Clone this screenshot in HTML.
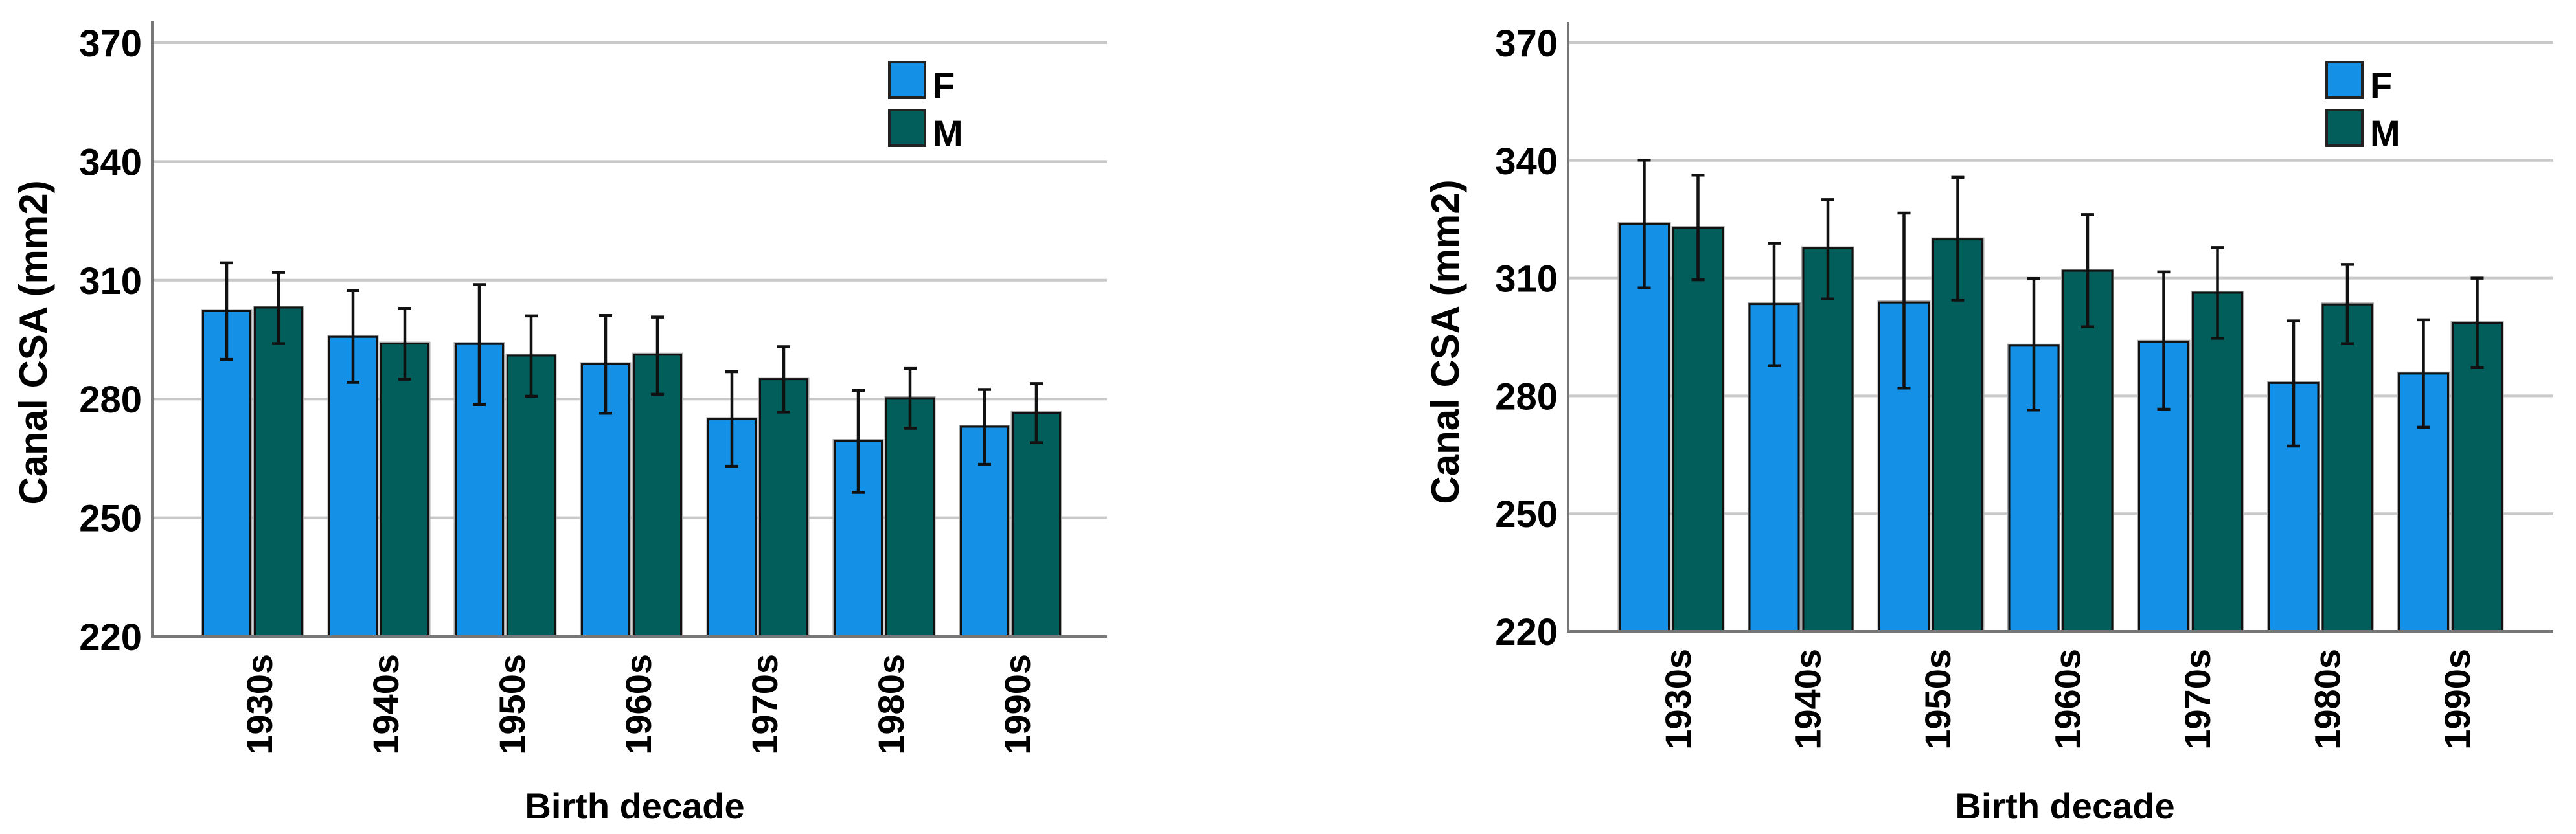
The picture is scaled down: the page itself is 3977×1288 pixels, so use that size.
<!DOCTYPE html>
<html><head><meta charset="utf-8"><style>
html,body{margin:0;padding:0;background:#fff;}
svg{display:block;}
text{font-family:"Liberation Sans",Arial,sans-serif;font-weight:bold;fill:#000;}
</style></head><body>
<svg id="chart" width="3977" height="1288" viewBox="0 0 3977 1288" xmlns="http://www.w3.org/2000/svg"></svg>
<script>
const categories = ["1930s","1940s","1950s","1960s","1970s","1980s","1990s"];
const yTicks = [220,250,280,310,340,370];
const leftF = [302.2,295.7,293.9,288.8,274.9,269.4,273.0];
const leftFHi = [314.4,307.4,308.9,301.1,286.9,282.2,282.4];
const leftFLo = [290.0,284.2,278.6,276.4,263.0,256.4,263.5];
const leftM = [303.1,294.0,291.0,291.2,285.0,280.2,276.5];
const leftMHi = [312.0,302.9,301.0,300.7,293.2,287.7,283.9];
const leftMLo = [294.0,285.0,280.7,281.2,276.7,272.6,269.0];
const rightF = [323.8,303.4,303.8,292.8,293.8,283.3,285.7];
const rightFHi = [340.1,318.9,326.6,309.9,311.6,299.1,299.4];
const rightFLo = [307.5,287.7,282.0,276.4,276.6,267.2,272.0];
const rightM = [322.8,317.6,319.9,311.9,306.3,303.3,298.6];
const rightMHi = [336.3,330.0,335.7,326.2,317.8,313.5,310.0];
const rightMLo = [309.6,304.7,304.4,297.6,294.7,293.3,287.2];

const NS = "http://www.w3.org/2000/svg";
const svg = document.getElementById("chart");
function mk(tag, attrs, parent){
  const e = document.createElementNS(NS, tag);
  for (const k in attrs) e.setAttribute(k, attrs[k]);
  (parent||svg).appendChild(e);
  return e;
}
const FC = "#1490e6", MC = "#025e5b";

function drawChart(cfg, F, FHi, FLo, M, MHi, MLo){
  const g = mk("g", {});
  
  
  const y = v => cfg.y220 + (v - 220) * (cfg.y370 - cfg.y220) / 150;
  const xc = i => cfg.first + i * cfg.step;
  yTicks.forEach(t => {
    if (t > 220) {
      const l = mk("line", {x1: cfg.x0, x2: cfg.x1, y1: y(t), y2: y(t), stroke: "#c8c8c8", "stroke-width": 4}, g);
      
      
    }
    const tx = mk("text", {x: cfg.x0 - 16, y: y(t) + 21, "font-size": 58, "text-anchor": "end"}, g);
    tx.textContent = t;
    
    
  });
  const bw = cfg.bw, gap = 7;
  categories.forEach((c, i) => {
    const series = [[F[i], FHi[i], FLo[i], FC, xc(i) - gap/2 - bw], [M[i], MHi[i], MLo[i], MC, xc(i) + gap/2]];
    series.forEach((s, j) => {
      const sh = mk("rect", {x: s[4] - 2, y: y(s[0]) - 2, width: bw + 4, height: y(220) - y(s[0]) + 2, fill: "none", stroke: "#aaa", "stroke-width": 2}, g);
      
      
      const r = mk("rect", {x: s[4], y: y(s[0]), width: bw, height: y(220) - y(s[0]), fill: s[3], stroke: "#111", "stroke-width": 3}, g);
      
      
      const cx = s[4] + bw / 2;
      const eb = mk("path", {d: `M${cx},${y(s[1])}V${y(s[2])}M${cx-10},${y(s[1])}H${cx+10}M${cx-10},${y(s[2])}H${cx+10}`, stroke: "#111", "stroke-width": 4.5, fill: "none"}, g);
      
      
    });
    const lx = xc(i) + 30, ly = cfg.y220 + 27;
    const lt = mk("text", {x: lx, y: ly, "font-size": 56, "text-anchor": "end", transform: `rotate(-90 ${lx} ${ly})`}, g);
    lt.textContent = c;
    
    
  });
  const ax = mk("path", {d: `M${cfg.x0},${cfg.yTop}V${cfg.y220}H${cfg.x1}`, stroke: "#777", "stroke-width": 4, fill: "none"}, g);
  
  
  const yt = mk("text", {x: cfg.ytx, y: cfg.yty, "font-size": 60, "text-anchor": "middle", transform: `rotate(-90 ${cfg.ytx} ${cfg.yty})`}, g);
  yt.textContent = "Canal CSA (mm2)";
  
  
  const xt = mk("text", {x: cfg.xtx, y: 1264, "font-size": 56, "text-anchor": "middle"}, g);
  xt.textContent = "Birth decade";
  
  
  [["F", FC, 96], ["M", MC, 170]].forEach(L => {
    const sw = mk("rect", {x: cfg.lx, y: L[2], width: 55, height: 55, fill: L[1], stroke: "#222", "stroke-width": 4}, g);
    
    
    const lt = mk("text", {x: cfg.lx + 67, y: L[2] + 55, "font-size": 56}, g);
    lt.textContent = L[0];
    
    
  });
}
drawChart({name: "left-chart", x0: 235, x1: 1709, yTop: 32, y370: 66, y220: 983, first: 390, step: 195, bw: 73, ytx: 72, yty: 529, xtx: 980, lx: 1373},
  leftF, leftFHi, leftFLo, leftM, leftMHi, leftMLo);
drawChart({name: "right-chart", x0: 2421, x1: 3942, yTop: 34, y370: 66, y220: 975, first: 2580, step: 200.5, bw: 76, ytx: 2252, yty: 528, xtx: 3188, lx: 3592},
  rightF, rightFHi, rightFLo, rightM, rightMHi, rightMLo);
</script>
</body></html>
